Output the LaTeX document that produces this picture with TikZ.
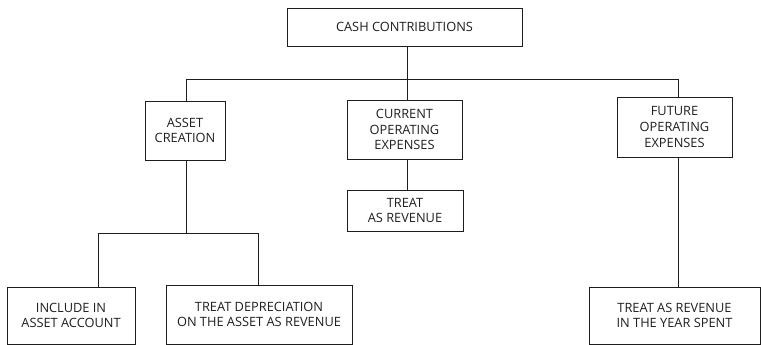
\documentclass[tikz,border=0pt]{standalone}
\usepackage{fontspec}
\setmainfont{Open Sans}
\begin{document}
\begin{tikzpicture}[x=1pt,y=-1pt,
  box/.style={draw=ink, line width=0.9pt, text=ink, align=center, inner sep=0pt,
    font=\fontsize{12.8}{15.8}\selectfont},
  link/.style={draw=ink, line width=0.9pt}]
\definecolor{ink}{RGB}{30,30,30}
\useasboundingbox (0,0) rectangle (761,345);
\node[box, minimum width=235pt, minimum height=38pt] (cash) at (404.5,27) {CASH CONTRIBUTIONS};
\node[box, minimum width=80pt, minimum height=59pt] (asset) at (185,130.5) {ASSET\\CREATION};
\node[box, minimum width=115pt, minimum height=59pt] (current) at (404.5,129.5) {CURRENT\\OPERATING\\EXPENSES};
\node[box, minimum width=115pt, minimum height=60pt] (future) at (674.5,127) {FUTURE\\OPERATING\\EXPENSES};
\node[box, minimum width=116pt, minimum height=41pt] (treat) at (405,210.5) {TREAT\\AS REVENUE};
\node[box, minimum width=128pt, minimum height=57pt] (include) at (71,315.5) {INCLUDE IN\\ASSET ACCOUNT};
\node[box, minimum width=186pt, minimum height=59pt] (dep) at (259,314.5) {TREAT DEPRECIATION\\ON THE ASSET AS REVENUE};
\node[box, minimum width=171pt, minimum height=57pt] (year) at (674.5,315.5) {TREAT AS REVENUE\\IN THE YEAR SPENT};
\coordinate (j1) at (407,79);
\coordinate (j2) at (186,233);
% top level
\draw[link] ([xshift=2.5pt]cash.south) -- (j1);
\draw[link] (j1) -- ([xshift=2.5pt]current.north);
\draw[link] (j1) -| ([xshift=1pt]asset.north);
\draw[link] (j1) -| ([xshift=3.5pt]future.north);
% current
\draw[link] ([xshift=2.5pt]current.south) -- ([xshift=2pt]treat.north);
% asset
\draw[link] ([xshift=1pt]asset.south) -- (j2);
\draw[link] (j2) -| ([xshift=27pt]include.north);
\draw[link] (j2) -| ([xshift=-1pt]dep.north);
% future
\draw[link] ([xshift=3.5pt]future.south) -- ([xshift=3.5pt]year.north);
\end{tikzpicture}
\end{document}
